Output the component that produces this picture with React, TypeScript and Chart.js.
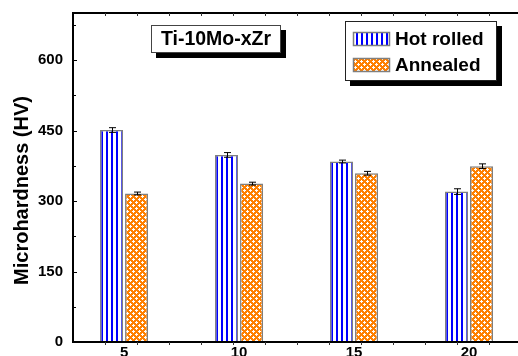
import React, { useEffect, useRef } from 'react';
import { Chart, registerables } from 'chart.js';

Chart.register(...registerables);

const categories = [5, 10, 15, 20];
const hotRolled = [451, 398, 384, 320];
const hotRolledErr = [5, 5, 3, 6];
const annealed = [316, 337, 359, 374];
const annealedErr = [3, 3, 4, 5];
const yTicks = [0, 150, 300, 450, 600];
const yMinorStep = 75;
const seriesNames = ['Hot rolled', 'Annealed'];
const alloyLabel = 'Ti-10Mo-xZr';
const yTitle = 'Microhardness (HV)';

const FONT = 'Arial, "Liberation Sans", sans-serif';

function makeStripe(): CanvasPattern | string {
  const c = document.createElement('canvas');
  c.width = 5;
  c.height = 4;
  const g = c.getContext('2d');
  if (!g) return '#0000ff';
  g.fillStyle = '#ffffff';
  g.fillRect(0, 0, 5, 4);
  g.fillStyle = '#0000ff';
  g.fillRect(1, 0, 2, 4);
  return g.createPattern(c, 'repeat') || '#0000ff';
}

function makeDots(): CanvasPattern | string {
  const c = document.createElement('canvas');
  c.width = 6;
  c.height = 6;
  const g = c.getContext('2d');
  if (!g) return '#ff8000';
  g.fillStyle = '#ff8000';
  g.fillRect(0, 0, 6, 6);
  g.fillStyle = '#ffffff';
  const plus = (cx: number, cy: number) => {
    g.fillRect(cx - 1, cy, 3, 1);
    g.fillRect(cx, cy - 1, 1, 3);
  };
  plus(1, 1);
  plus(4, 4);
  return g.createPattern(c, 'repeat') || '#ff8000';
}

export default function App() {
  const ref = useRef<HTMLCanvasElement>(null);

  useEffect(() => {
    const canvas = ref.current;
    if (!canvas) return;
    const stripe = makeStripe();
    const dots = makeDots();
    const errs = [hotRolledErr, annealedErr];
    const fills = [stripe, dots];

    const decor = {
      id: 'decor',
      afterDatasetsDraw(chart: any) {
        const ctx = chart.ctx;
        const ys = chart.scales.y;
        ctx.save();
        ctx.strokeStyle = '#000';
        ctx.lineWidth = 1;
        chart.data.datasets.forEach((ds: any, di: number) => {
          const meta = chart.getDatasetMeta(di);
          meta.data.forEach((el: any, i: number) => {
            const v = ds.data[i].y;
            const e = errs[di][i];
            const x = Math.round(el.x) + 0.5;
            const y1 = ys.getPixelForValue(v + e);
            const y2 = ys.getPixelForValue(v - e);
            ctx.beginPath();
            ctx.moveTo(x, y1);
            ctx.lineTo(x, y2);
            ctx.moveTo(x - 3.5, y1);
            ctx.lineTo(x + 3.5, y1);
            ctx.moveTo(x - 3.5, y2);
            ctx.lineTo(x + 3.5, y2);
            ctx.stroke();
          });
        });
        ctx.restore();
      },
      afterDraw(chart: any) {
        const ctx = chart.ctx;
        const { left, top, bottom } = chart.chartArea;
        const ys = chart.scales.y;
        const xs = chart.scales.x;
        ctx.save();
        // frame
        ctx.strokeStyle = '#000';
        ctx.lineWidth = 2;
        ctx.beginPath();
        ctx.moveTo(left, top);
        ctx.lineTo(chart.width + 5, top);
        ctx.moveTo(left, top - 1);
        ctx.lineTo(left, bottom + 1);
        ctx.moveTo(left, bottom);
        ctx.lineTo(chart.width + 5, bottom);
        ctx.stroke();
        // y ticks (inward)
        ctx.lineWidth = 1;
        for (let v = yMinorStep; v < ys.max; v += yMinorStep) {
          const y = Math.round(ys.getPixelForValue(v)) + 0.5;
          const major = yTicks.includes(v);
          ctx.beginPath();
          ctx.moveTo(left, y);
          ctx.lineTo(left + (major ? 4 : 3), y);
          ctx.stroke();
        }
        // x ticks top (inward) and bottom (outward)
        const step = 32 / (xs.getPixelForValue(xs.min + 1) - xs.getPixelForValue(xs.min));
        ctx.strokeStyle = '#333';
        for (let v = xs.min + step; v < xs.max; v += step) {
          const x = Math.round(xs.getPixelForValue(v)) + 0.5;
          ctx.beginPath();
          ctx.moveTo(x, top);
          ctx.lineTo(x, top + 3);
          ctx.moveTo(x, bottom);
          ctx.lineTo(x, bottom + 3);
          ctx.stroke();
        }
        // alloy label box
        const bx = left + 78, by = top + 12, bw = 130, bh = 28;
        ctx.fillStyle = '#000';
        ctx.fillRect(bx + 5, by + 5, bw, bh);
        ctx.fillStyle = '#fff';
        ctx.fillRect(bx, by, bw, bh);
        ctx.strokeStyle = '#444';
        ctx.lineWidth = 1;
        ctx.strokeRect(bx + 0.5, by + 0.5, bw - 1, bh - 1);
        ctx.fillStyle = '#000';
        ctx.font = `bold 19.5px ${FONT}`;
        ctx.textAlign = 'center';
        ctx.textBaseline = 'middle';
        ctx.fillText(alloyLabel, bx + bw / 2, by + bh / 2 + 1);
        // legend box
        const lx = left + 272, ly = top + 8, lw = 152, lh = 60;
        ctx.fillStyle = '#000';
        ctx.fillRect(lx + 5, ly + 5, lw, lh);
        ctx.fillStyle = '#fff';
        ctx.fillRect(lx, ly, lw, lh);
        ctx.strokeStyle = '#222';
        ctx.strokeRect(lx + 0.5, ly + 0.5, lw - 1, lh - 1);
        seriesNames.forEach((name, i) => {
          const sy = ly + 11 + i * 26;
          ctx.fillStyle = fills[i];
          ctx.fillRect(lx + 8, sy, 37, 14);
          ctx.strokeStyle = '#7f7f7f';
          ctx.lineWidth = 1.5;
          ctx.strokeRect(lx + 8.5, sy + 0.5, 36, 13);
          ctx.fillStyle = '#000';
          ctx.font = `bold 19px ${FONT}`;
          ctx.textAlign = 'left';
          ctx.textBaseline = 'middle';
          ctx.fillText(name, lx + 50, sy + 7.5);
        });
        // y title
        ctx.save();
        ctx.translate(28, (top + bottom) / 2 + 13);
        ctx.rotate(-Math.PI / 2);
        ctx.font = `bold 20px ${FONT}`;
        ctx.textAlign = 'center';
        ctx.textBaseline = 'alphabetic';
        ctx.fillStyle = '#000';
        ctx.fillText(yTitle, 0, 0);
        ctx.restore();
        ctx.restore();
      },
    };

    const chart = new Chart(canvas, {
      type: 'bar',
      data: {
        datasets: [
          {
            label: seriesNames[0],
            data: categories.map((c, i) => ({ x: c, y: hotRolled[i] })),
            backgroundColor: stripe as any,
            borderColor: '#7f7f7f',
            borderWidth: 1.5,
            categoryPercentage: 0.435,
            barPercentage: 0.92,
          },
          {
            label: seriesNames[1],
            data: categories.map((c, i) => ({ x: c, y: annealed[i] })),
            backgroundColor: dots as any,
            borderColor: '#7f7f7f',
            borderWidth: 1.5,
            categoryPercentage: 0.435,
            barPercentage: 0.92,
          },
        ],
      },
      options: {
        animation: false,
        responsive: false,
        devicePixelRatio: 1,
        layout: { padding: { top: 13, right: 0, left: 0, bottom: 0 } },
        plugins: { legend: { display: false }, tooltip: { enabled: false } },
        scales: {
          x: {
            type: 'linear',
            offset: false,
            min: 2.78,
            max: 22.13,
            afterBuildTicks: (s: any) => {
              s.ticks = categories.map((v) => ({ value: v }));
            },
            afterFit: (s: any) => {
              s.height = 14;
              s.paddingLeft = 0;
              s.paddingRight = 0;
            },
            grid: { display: false, drawTicks: false },
            border: { display: false },
            ticks: {
              color: '#000',
              font: { family: FONT, size: 15, weight: 'bold' },
              padding: 2,
              maxRotation: 0,
              autoSkip: false,
            },
          },
          y: {
            min: 0,
            max: 700,
            afterBuildTicks: (s: any) => {
              s.ticks = yTicks.map((v) => ({ value: v }));
            },
            afterFit: (s: any) => {
              s.width = 73;
              s.paddingTop = 0;
              s.paddingBottom = 0;
            },
            grid: { display: false, drawTicks: false },
            border: { display: false },
            ticks: {
              color: '#000',
              font: { family: FONT, size: 15, weight: 'bold' },
              padding: 10,
            },
          },
        },
      },
      plugins: [decor],
    } as any);
    return () => chart.destroy();
  }, []);

  return (
    <div style={{ position: 'absolute', left: 0, top: 0, width: 518, height: 356, overflow: 'hidden', background: '#fff' }}>
      <canvas ref={ref} width={518} height={356} style={{ display: 'block' }} />
    </div>
  );
}
